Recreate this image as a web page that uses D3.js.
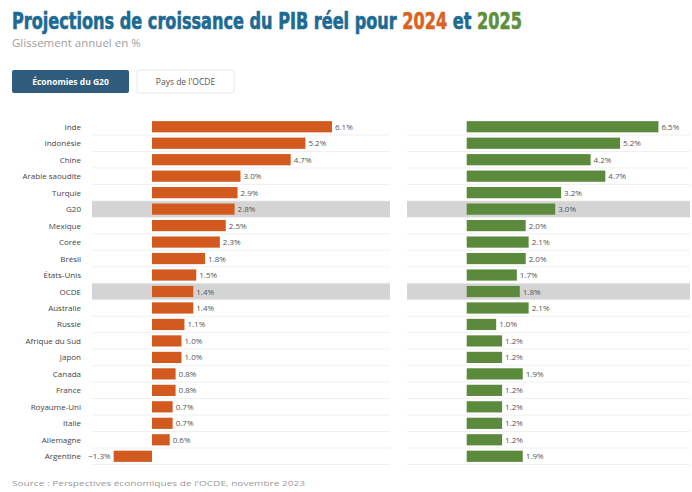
<!DOCTYPE html>
<html>
<head>
<meta charset="utf-8">
<script src="https://cdn.jsdelivr.net/npm/d3@7"></script>
<style>
  html, body { margin: 0; padding: 0; background: #fff; }
  svg { display: block; }
</style>
</head>
<body>
<svg id="chart" width="692" height="492"></svg>
<script>
// Economies, top to bottom
const countries = ["Inde", "Indonésie", "Chine", "Arabie saoudite", "Turquie", "G20", "Mexique",
  "Corée", "Brésil", "États-Unis", "OCDE", "Australie", "Russie", "Afrique du Sud", "Japon",
  "Canada", "France", "Royaume-Uni", "Italie", "Allemagne", "Argentine"];
// Aggregates drawn on a grey band
const aggregates = ["G20", "OCDE"];
// Real GDP growth, % y/y
const growth2024 = [6.1, 5.2, 4.7, 3.0, 2.9, 2.8, 2.5, 2.3, 1.8, 1.5, 1.4, 1.4, 1.1, 1.0, 1.0,
  0.8, 0.8, 0.7, 0.7, 0.6, -1.3];
const growth2025 = [6.5, 5.2, 4.2, 4.7, 3.2, 3.0, 2.0, 2.1, 2.0, 1.7, 1.8, 2.1, 1.0, 1.2, 1.2,
  1.9, 1.2, 1.2, 1.2, 1.2, 1.9];
const tabs = ["Économies du G20", "Pays de l'OCDE"];

const svg = d3.select("#chart");
const fmt = v => d3.format(".1f")(v) + "%";

// Title with coloured years
const title = svg.append("text")
  .attr("x", 12).attr("y", 29)
  .attr("font-family", "'DejaVu Sans Condensed', 'DejaVu Sans', sans-serif")
  .attr("font-weight", "bold").attr("font-size", 23)
  .attr("fill", "#1d6a93").attr("stroke", "#1d6a93").attr("stroke-width", 0.6);
title.append("tspan").text("Projections de croissance du PIB réel pour ");
title.append("tspan").attr("fill", "#d9641f").attr("stroke", "#d9641f").text("2024");
title.append("tspan").text(" et ");
title.append("tspan").attr("fill", "#5e8f3d").attr("stroke", "#5e8f3d").text("2025");
const tw = title.node().getComputedTextLength();
title.attr("transform", `translate(12,0) scale(${510 / tw},1) translate(-12,0)`);

svg.append("text")
  .attr("x", 12).attr("y", 47)
  .attr("font-family", "'Open Sans', sans-serif").attr("font-size", 11.5)
  .attr("fill", "#a0a0a0").text("Glissement annuel en %");

// Tabs
const tabX = [12, 137], tabW = [117, 97];
tabs.forEach((t, i) => {
  svg.append("rect")
    .attr("x", tabX[i]).attr("y", 70).attr("width", tabW[i]).attr("height", 23).attr("rx", 2)
    .attr("fill", i === 0 ? "#2f5b7c" : "#fff")
    .attr("stroke", i === 0 ? "none" : "#e8e8e8");
  svg.append("text")
    .attr("x", tabX[i] + tabW[i] / 2).attr("y", 85)
    .attr("text-anchor", "middle")
    .attr("font-family", "'Open Sans', sans-serif").attr("font-size", 8.5)
    .attr("font-weight", i === 0 ? "bold" : "normal")
    .attr("fill", i === 0 ? "#fff" : "#555").text(t);
});

// Row layout
const y = d3.scaleBand().domain(countries).range([118.5, 464.5]).paddingInner(0.32).paddingOuter(0.16);
const rowStep = y.step();
const rowCenter = c => y(c) + y.bandwidth() / 2;

const xL = d3.scaleLinear().domain([-1.5, 8]).range([107.75, 388]);
const xR = d3.scaleLinear().domain([0, 7.5]).range([466.7, 687.95]);

const panels = [
  { x: xL, vals: growth2024, color: "#d35a1e", bandX: [92, 390] },
  { x: xR, vals: growth2025, color: "#5b8a3c", bandX: [407, 690] }
];

panels.forEach(p => {
  const g = svg.append("g");
  // faint row separators
  g.selectAll("line.sep").data(countries).join("line")
    .attr("x1", p.bandX[0]).attr("x2", p.bandX[1])
    .attr("y1", c => rowCenter(c) + rowStep / 2).attr("y2", c => rowCenter(c) + rowStep / 2)
    .attr("stroke", "#f0f0f0").attr("stroke-width", 1);
  // grey band for aggregates
  g.selectAll("rect.agg").data(aggregates).join("rect")
    .attr("x", p.bandX[0]).attr("width", p.bandX[1] - p.bandX[0])
    .attr("y", c => rowCenter(c) - rowStep * 0.48).attr("height", rowStep * 0.96)
    .attr("fill", "#d4d4d4");
  const data = countries.map((c, i) => ({ c, v: p.vals[i] }));
  g.selectAll("rect.bar").data(data).join("rect")
    .attr("x", d => p.x(Math.min(0, d.v)))
    .attr("width", d => Math.abs(p.x(d.v) - p.x(0)))
    .attr("y", d => y(d.c)).attr("height", y.bandwidth())
    .attr("fill", p.color);
  g.selectAll("text.val").data(data).join("text")
    .attr("x", d => d.v < 0 ? p.x(d.v) - 3 : p.x(d.v) + 3)
    .attr("y", d => rowCenter(d.c) + 3)
    .attr("text-anchor", d => d.v < 0 ? "end" : "start")
    .attr("font-family", "'Open Sans', sans-serif").attr("font-size", 8)
    .attr("fill", "#555").text(d => fmt(d.v));
});

// Category labels
svg.append("g").selectAll("text").data(countries).join("text")
  .attr("x", 81).attr("y", c => rowCenter(c) + 3)
  .attr("text-anchor", "end")
  .attr("font-family", "'Open Sans', sans-serif").attr("font-size", 8)
  .attr("fill", "#444").text(c => c);

// Source
svg.append("text")
  .attr("x", 12).attr("y", 486)
  .attr("font-family", "'Open Sans', sans-serif").attr("font-size", 6.5)
  .attr("fill", "#9a9a9a")
  .text("Source : Perspectives économiques de l'OCDE, novembre 2023")
  .attr("textLength", 293).attr("lengthAdjust", "spacingAndGlyphs");
</script>
</body>
</html>
